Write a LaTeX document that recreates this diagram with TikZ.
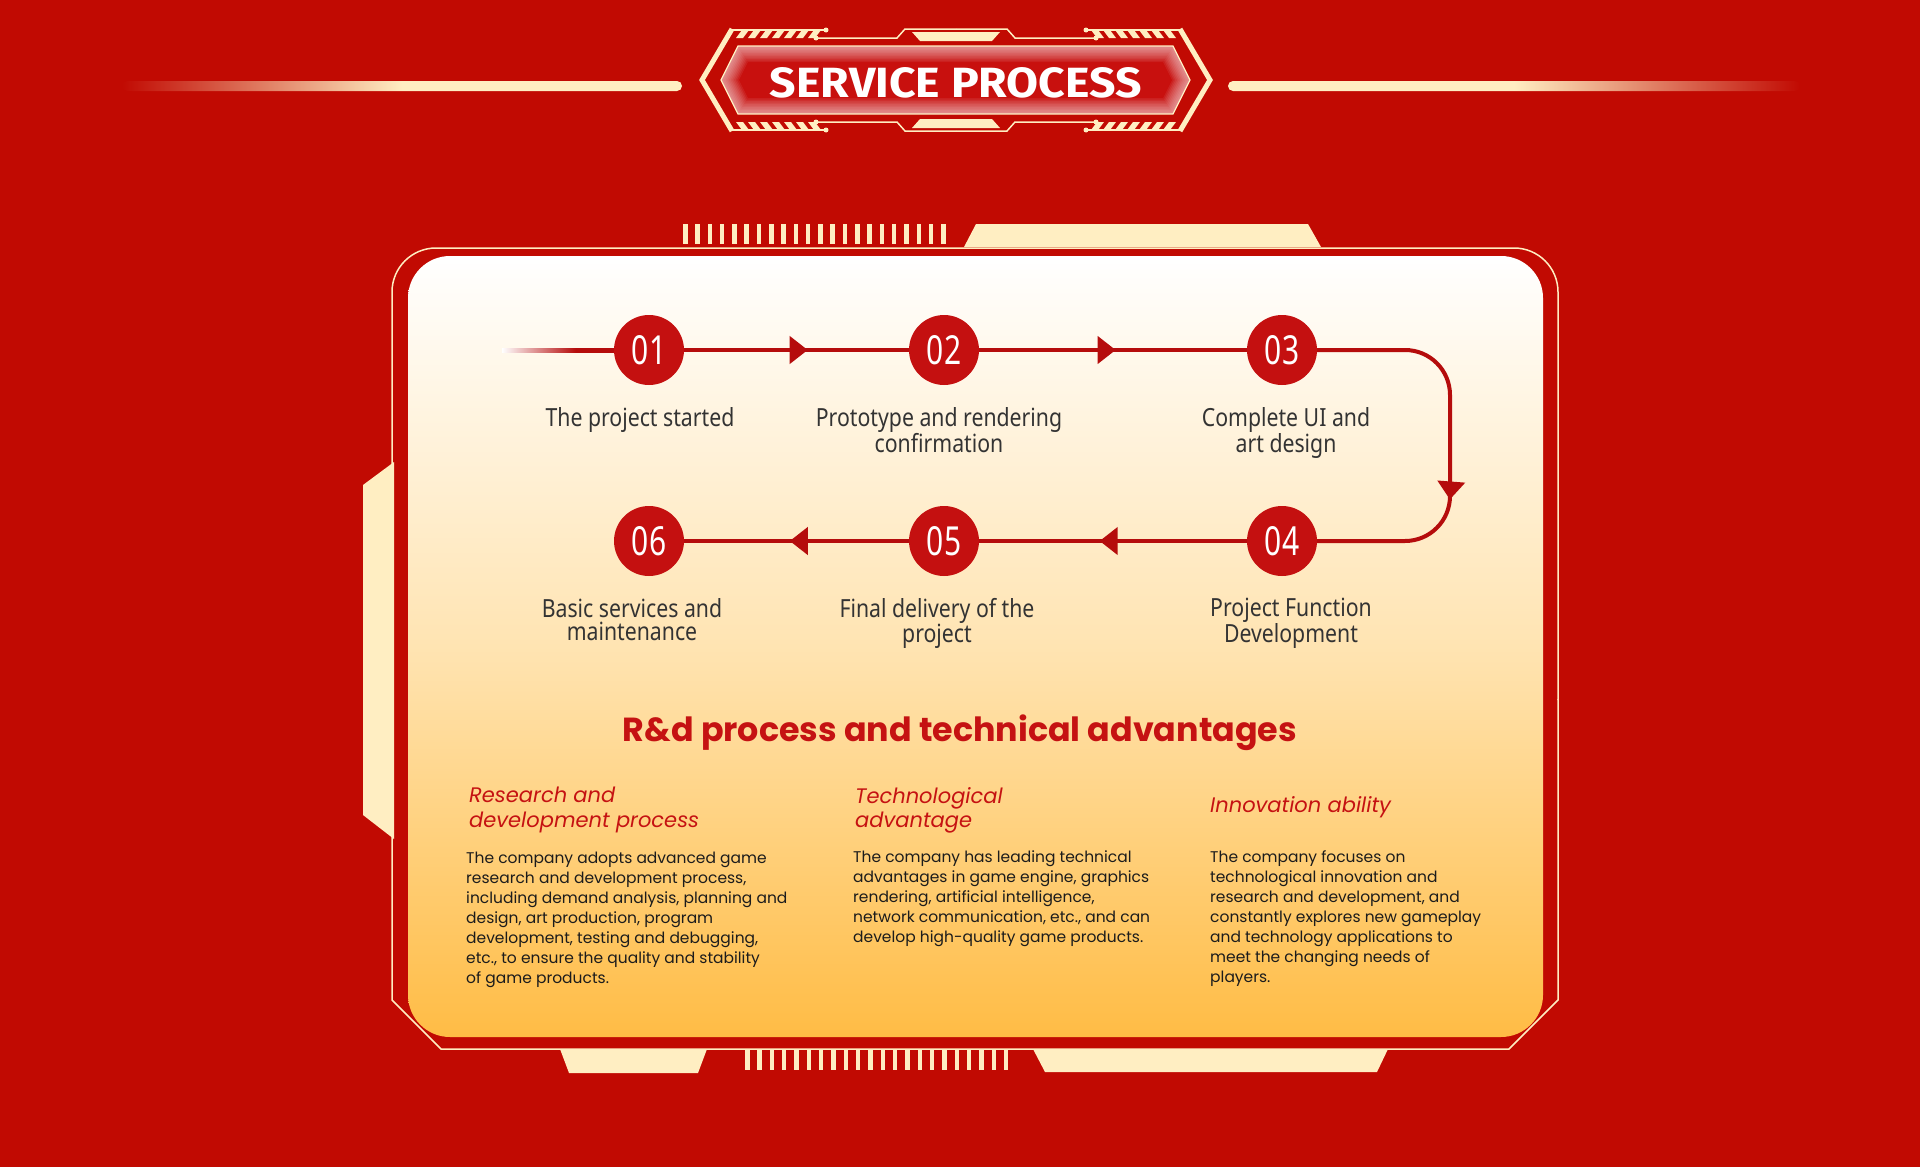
\documentclass[tikz,border=0pt]{standalone}
\usepackage{fontspec}
\usepackage{graphicx}
\setmainfont{Poppins}
\newfontfamily\labelfont[FakeStretch=0.85]{Noto Sans}
\newfontfamily\numfont[FakeStretch=0.75]{Noto Sans}
\newfontfamily\titlefont{Fira Sans}
\usetikzlibrary{positioning,arrows.meta,decorations.markings}

\definecolor{bgred}{HTML}{C10A02}
\definecolor{titlered}{HTML}{C8100E}
\definecolor{linered}{HTML}{B50C0C}
\definecolor{dotred}{HTML}{C41010}
\definecolor{headred}{HTML}{C51212}
\definecolor{cream}{HTML}{FFEEC2}
\definecolor{pPeach}{HTML}{FFE4B2}
\definecolor{pOrange}{HTML}{FFBC45}
\definecolor{capgray}{HTML}{333333}
\definecolor{bodyblack}{HTML}{1C1C1C}

\tikzset{
  numdot/.style={circle, fill=dotred, text=white, minimum size=70pt, inner sep=0pt, font=\numfont\fontsize{40}{40}\selectfont},
  steplabel/.style={text=capgray, align=center, inner sep=0pt, anchor=north, font=\labelfont\fontsize{25}{23.5}\selectfont},
  flow/.style={draw=linered, line width=4pt},
  midarrow/.style={postaction={decorate}, decoration={markings, mark=at position #1 with {\arrow{Triangle[length=18pt,width=27pt]}}}},
  subhead/.style={text=headred, align=left, inner sep=0pt, anchor=north west, font=\itshape\fontsize{21}{24.5}\selectfont},
  bodytext/.style={text=bodyblack, align=left, inner sep=0pt, anchor=north west, font=\fontsize{15.5}{20}\selectfont},
  frameline/.style={draw=cream, line width=1.5pt},
  titlehex/.style={insert path={(738,46) -- (721,80) -- (738,114) -- (1173,114) -- (1190,80) -- (1173,46) -- cycle}}
}

\begin{document}
\begin{tikzpicture}[x=1pt,y=-1pt]
\fill[bgred] (0,0) rectangle (1920,1167);
\useasboundingbox (0,0) rectangle (1920,1167);

\shade[left color=bgred, right color=cream, middle color=cream, rounded corners=5pt] (122,81) rectangle (682,91);
\shade[left color=cream, right color=bgred, middle color=cream, rounded corners=5pt] (1228,81) rectangle (1800,91);

\foreach \s in {-1,1}{
  \begin{scope}[shift={(956,80)}, xscale=\s]
    \draw[cream, line width=5pt] (-224,-51) -- (-254,0) -- (-224,51);
    \foreach \t in {-1,1}{
      \begin{scope}[yscale=\t]
        \draw[cream, line width=2.5pt] (-224,-50) -- (-130,-50);
        \fill[cream] (-130,-50) circle (2.5);
        \foreach \k in {0,...,6}
          \fill[cream] (-214+\k*12,-50) -- ++(7,0) -- ++(-6,8) -- ++(-7,0) -- cycle;
        \draw[cream, line width=1.5pt] (-140,-42) -- (-59,-42) -- (-51,-51) -- (0,-51);
        \fill[cream] (-140,-42) circle (2.5);
        \fill[cream] (-44,-48) -- (0,-48) -- (0,-39) -- (-36,-39) -- cycle;
      \end{scope}
    }
  \end{scope}
}
\begin{scope}
  \clip[titlehex];
  \fill[titlered, titlehex];
  \foreach \w in {32,29,...,2}
    \draw[white, opacity=.07, line width=\w pt, titlehex];
\end{scope}
\draw[cream, line width=1.2pt, titlehex];
\node[text=white, inner sep=0pt, anchor=base] (title) at (956,97) {\resizebox{372pt}{30pt}{\titlefont\bfseries SERVICE PROCESS}};

\draw[frameline, rounded corners=44pt] (392,700) -- (392,248) -- (1558,248) -- (1558,700);
\draw[frameline] (392,699) -- (392,1000) -- (441,1049) -- (1509,1049) -- (1558,1000) -- (1558,699);
\shade[rounded corners=42pt, top color=white, bottom color=pOrange, middle color=pPeach] (408,256) rectangle (1543,1037);

\foreach \i in {0,...,21}
  \fill[cream] (683+\i*12.29,224) rectangle ++(4.5,20);
\fill[cream] (964,247) -- (976,224) -- (1308,224) -- (1321,247) -- cycle;
\fill[cream] (363,485) -- (394,462) -- (394,839) -- (363,815) -- cycle;
\fill[cream] (560,1049) -- (707,1049) -- (698,1073) -- (569,1073) -- cycle;
\foreach \i in {0,...,21}
  \fill[cream] (745+\i*12.33,1050) rectangle ++(4.5,20);
\fill[cream] (1033,1049) -- (1388,1049) -- (1377,1072) -- (1045,1072) -- cycle;

\coordinate (start) at (502,348);
\coordinate (startend) at (649,352);
\shade[left color=white, right color=linered, middle color=linered] (start) rectangle (startend);

\node[numdot] (c1) at (649,350) {01};
\node[numdot] (c2) at (944,350) {02};
\node[numdot] (c3) at (1282,350) {03};
\node[numdot] (c4) at (1282,541) {04};
\node[numdot] (c5) at (944,541) {05};
\node[numdot] (c6) at (649,541) {06};
\coordinate (turn1) at (1450,350);
\coordinate (turn2) at (1450,541);

\draw[flow, midarrow=0.55] (c1) -- (c2);
\draw[flow, midarrow=0.51] (c2) -- (c3);
\draw[flow, rounded corners=45pt, midarrow=263pt] (c3.east) -- (turn1) -- (turn2) -- (c4.east);
\draw[flow, midarrow=0.55] (c4) -- (c5);
\draw[flow, midarrow=0.53] (c5) -- (c6);

\node[steplabel, below=22pt of c1, xshift=-9pt] (l1) {The project started};
\node[steplabel, below=22pt of c2, xshift=-5pt] (l2) {Prototype and rendering\\confirmation};
\node[steplabel, below=22pt of c3, xshift=4pt] (l3) {Complete UI and\\art design};
\node[steplabel, below=22pt of c4, xshift=9pt] (l4) {Project Function\\Development};
\node[steplabel, below=22pt of c5, xshift=-7pt] (l5) {Final delivery of the\\project};
\node[steplabel, below=22pt of c6, xshift=-17pt] (l6) {Basic services and\\maintenance};

\node[text=headred, inner sep=0pt, anchor=base] (head) at (960,741) {\resizebox{674pt}{!}{\bfseries R\&d process and technical advantages}};

\node[subhead] (s1) at (469,787) {Research and\\development process};
\node[subhead] (s2) at (855,787) {Technological\\advantage};
\node[subhead] (s3) at (1210,796) {Innovation ability};

\node[bodytext] (b1) at (466,852) {The company adopts advanced game\\research and development process,\\including demand analysis, planning and\\design, art production, program\\development, testing and debugging,\\etc., to ensure the quality and stability\\of game products.};
\node[bodytext] (b2) at (853,850) {The company has leading technical\\advantages in game engine, graphics\\rendering, artificial intelligence,\\network communication, etc., and can\\develop high-quality game products.};
\node[bodytext] (b3) at (1210,850) {The company focuses on\\technological innovation and\\research and development, and\\constantly explores new gameplay\\and technology applications to\\meet the changing needs of\\players.};
\end{tikzpicture}
\end{document}
